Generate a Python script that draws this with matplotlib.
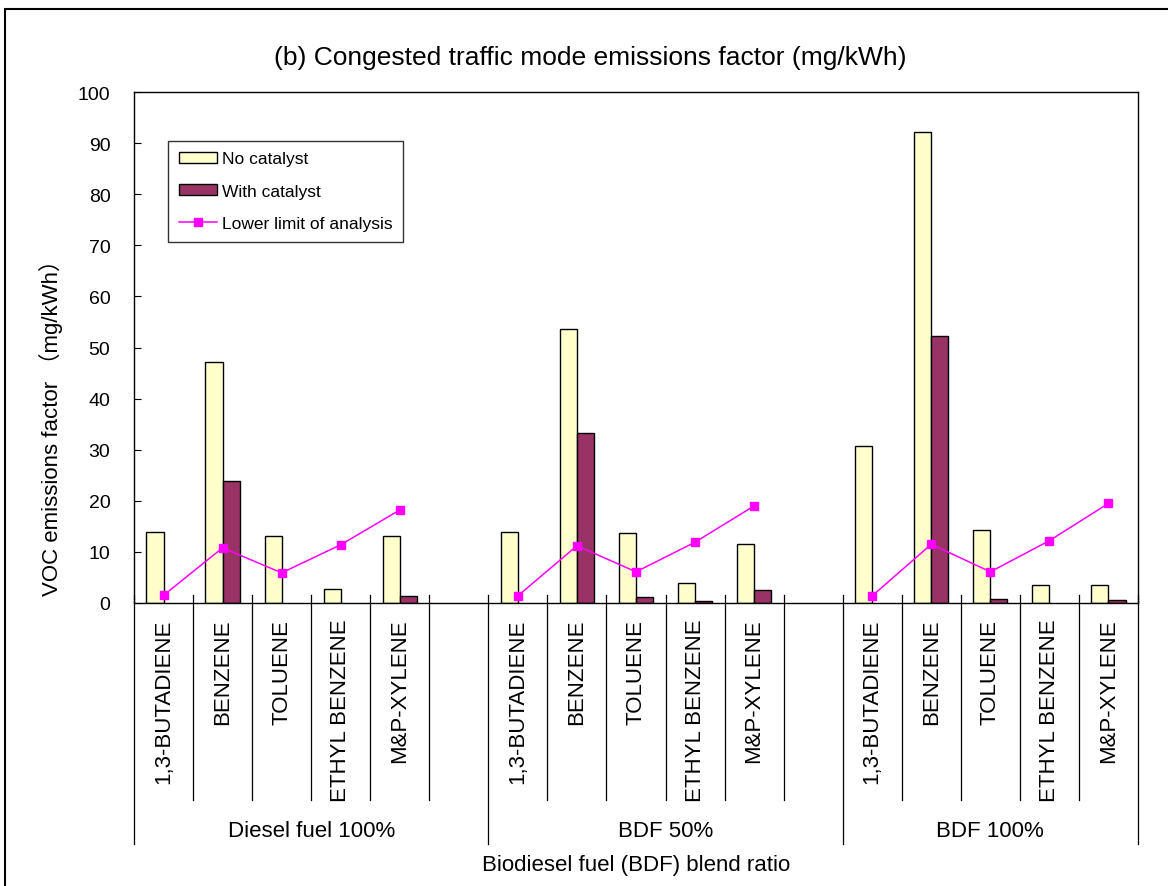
# coding:utf-8
import numpy as np
import matplotlib
matplotlib.use("Agg")
import matplotlib.pyplot as plt
from matplotlib.patches import Rectangle
from matplotlib.transforms import blended_transform_factory

plt.rcParams['font.family'] = ['Liberation Sans', 'Noto Sans CJK SC', 'DejaVu Sans']

nan = np.nan

# 数据 (每组6格，最后一组5格；空格用 nan)
groups = ['Diesel fuel 100%', 'BDF 50%', 'BDF 100%']
compounds = ['1,3-BUTADIENE', 'BENZENE', 'TOLUENE', 'ETHYL BENZENE', 'M&P-XYLENE']
group_slots = [6, 6, 5]

no_catalyst = [13.8, 47.2, 13.2, 2.7, 13.2, nan,
               13.9, 53.6, 13.7, 4.0, 11.5, nan,
               30.7, 92.2, 14.3, 3.6, 3.6]
with_catalyst = [nan, 23.9, nan, nan, 1.4, nan,
                 nan, 33.2, 1.1, 0.3, 2.6, nan,
                 nan, 52.2, 0.7, nan, 0.5]
lower_limit = [1.5, 10.8, 5.9, 11.4, 18.2, nan,
               1.4, 11.2, 6.1, 11.9, 19.0, nan,
               1.4, 11.5, 6.1, 12.2, 19.5]

y_ticks = list(range(0, 101, 10))


def px_w(x):
    return x / 1168.0


def px_h(y):
    return 1 - y / 887.0


def get_picture():
    fig = plt.figure(figsize=(11.68, 8.87), dpi=100)
    ax = fig.add_axes([px_w(134), px_h(604), px_w(1138 - 134), (604 - 93) / 887.0])

    n = len(no_catalyst)
    x = np.arange(n)
    w = 0.29
    b1 = ax.bar(x - w / 2, no_catalyst, w, color='#FFFFCC', edgecolor='black', linewidth=1,
                label='No catalyst', zorder=2)
    b2 = ax.bar(x + w / 2, with_catalyst, w, color='#993366', edgecolor='black', linewidth=1,
                label='With catalyst', zorder=2)
    l1, = ax.plot(x, lower_limit, color='#FF00FF', linewidth=1.1, marker='s', markersize=5.5,
                  label='Lower limit of analysis', zorder=3)

    ax.set_xlim(-0.5, n - 0.5)
    ax.set_ylim(0, 100)
    ax.set_yticks(y_ticks)
    ax.set_xticks([])
    ax.tick_params(axis='y', direction='in', length=5, width=0.8, labelsize=14, pad=17)
    for s in ax.spines.values():
        s.set_linewidth(1)
        s.set_color('black')

    # 多级x轴：分隔线和标签
    tr = blended_transform_factory(ax.transData, ax.transAxes)
    start = 0
    bounds = [-0.5]
    for g, k in zip(groups, group_slots):
        for i in range(k):
            pos = start + i
            if i < len(compounds):
                ax.text(pos, -0.031, compounds[i], transform=tr, rotation=90,
                        ha='center', va='top', fontsize=16, clip_on=False)
            if i > 0:
                ax.plot([pos - 0.5, pos - 0.5], [0.0157, -0.3855], transform=tr,
                        color='black', linewidth=0.9, clip_on=False)
        center = start + (k - 1) / 2.0
        ax.text(center, -0.446, g, transform=tr, ha='center', va='center',
                fontsize=16, clip_on=False)
        start += k
        bounds.append(start - 0.5)
    for b in bounds:
        ax.plot([b, b], [0.0157, -0.4716], transform=tr, color='black',
                linewidth=0.9, clip_on=False)

    leg = ax.legend([b1, b2, l1], ['No catalyst', 'With catalyst', 'Lower limit of analysis'],
                    loc='upper left', bbox_to_anchor=(0.034, 0.904), fontsize=12.5,
                    frameon=True, fancybox=False, borderpad=0.6, labelspacing=1.0,
                    handlelength=2.2, handleheight=0.6, handletextpad=0.3, borderaxespad=0)
    leg.get_frame().set_edgecolor('black')
    leg.get_frame().set_linewidth(1)

    fig.text(px_w(590), px_h(58), '(b) Congested traffic mode emissions factor (mg/kWh)',
             ha='center', va='center', fontsize=19)
    fig.text(px_w(636), px_h(866), 'Biodiesel fuel (BDF) blend ratio',
             ha='center', va='center', fontsize=16)
    fig.text(px_w(51), px_h(422), 'VOC emissions factor （mg/kWh）', rotation=90,
             ha='center', va='center', fontsize=16)

    # 外框
    fig.patches.append(Rectangle((px_w(5), -0.05), 1.2, px_h(10) + 0.05,
                                 transform=fig.transFigure, fill=False,
                                 edgecolor='black', linewidth=1.5))
    plt.savefig('out.png', dpi=100)


if __name__ == "__main__":
    get_picture()
